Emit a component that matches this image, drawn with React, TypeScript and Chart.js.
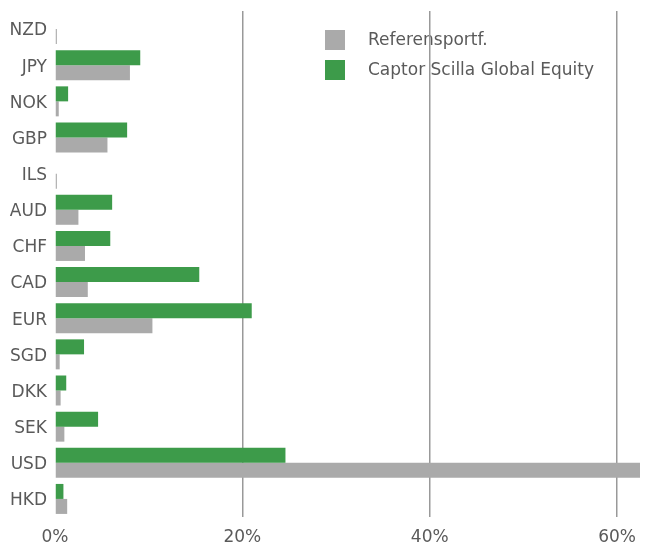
import React, { useEffect, useRef } from "react";
import { Chart, registerables } from "chart.js";

Chart.register(...registerables);

const categories = ["NZD", "JPY", "NOK", "GBP", "ILS", "AUD", "CHF", "CAD", "EUR", "SGD", "DKK", "SEK", "USD", "HKD"];
const captorValues = [0, 9.1, 1.4, 7.7, 0, 6.1, 5.9, 15.4, 21.0, 3.1, 1.2, 4.6, 24.6, 0.9];
const referensValues = [0.2, 8.0, 0.4, 5.6, 0.2, 2.5, 3.2, 3.5, 10.4, 0.5, 0.6, 1.0, 63.3, 1.3];
const xTicks = [0, 20, 40, 60];
const legendLabels = ["Referensportf.", "Captor Scilla Global Equity"];

const GREEN = "#3d9b4a";
const GREY = "#aaaaaa";
const TEXT = "#5a5a5a";
const FONT = "'DejaVu Sans', sans-serif";

const legendPlugin = {
  id: "customLegend",
  beforeDraw(chart: any) {
    const ctx = chart.ctx;
    const items = [
      { label: legendLabels[0], color: GREY },
      { label: legendLabels[1], color: GREEN },
    ];
    ctx.save();
    ctx.font = "17px " + FONT;
    ctx.textBaseline = "middle";
    items.forEach((it, i) => {
      const y = 22 + i * 30;
      ctx.fillStyle = it.color;
      ctx.fillRect(317, y, 20, 20);
      ctx.fillStyle = TEXT;
      ctx.fillText(it.label, 360, y + 11);
    });
    ctx.restore();
  },
};

export default function App() {
  const ref = useRef<HTMLCanvasElement | null>(null);
  useEffect(() => {
    if (!ref.current) return;
    const chart = new Chart(ref.current, {
      type: "bar",
      data: {
        labels: categories,
        datasets: [
          { label: legendLabels[1], data: captorValues, backgroundColor: GREEN },
          { label: legendLabels[0], data: referensValues, backgroundColor: GREY },
        ],
      },
      options: {
        indexAxis: "y",
        animation: false,
        responsive: false,
        layout: { padding: { top: 3, right: 0, bottom: 0, left: 0 } },
        datasets: { bar: { categoryPercentage: 0.83, barPercentage: 1 } },
        plugins: { legend: { display: false }, tooltip: { enabled: false } },
        scales: {
          x: {
            min: 0,
            max: 63.3,
            afterBuildTicks: (scale: any) => {
              scale.ticks = xTicks.map((v) => ({ value: v }));
            },
            afterFit: (scale: any) => {
              scale.paddingLeft = 0;
              scale.paddingRight = 0;
              scale.height = 27;
            },
            ticks: {
              color: TEXT,
              font: { family: FONT, size: 17 },
              padding: 10,
              callback: (v: any) => v + "%",
              maxRotation: 0,
            },
            grid: {
              color: (c: any) => (c.tick && c.tick.value === 0 ? "rgba(0,0,0,0)" : "#999999"),
              lineWidth: 1.5,
              drawTicks: false,
            },
            border: { display: false },
          },
          y: {
            afterFit: (scale: any) => {
              scale.paddingTop = 0;
              scale.paddingBottom = 0;
              scale.width = 47;
            },
            ticks: {
              color: TEXT,
              font: { family: FONT, size: 17 },
              padding: 8,
              labelOffset: 2,
            },
            grid: { display: false, drawTicks: false },
            border: { display: false },
          },
        },
      },
      plugins: [legendPlugin],
    });
    return () => chart.destroy();
  }, []);
  return (
    <div style={{ width: 640, height: 536 }}>
      <canvas ref={ref} width={640} height={536} style={{ display: "block" }} />
    </div>
  );
}
